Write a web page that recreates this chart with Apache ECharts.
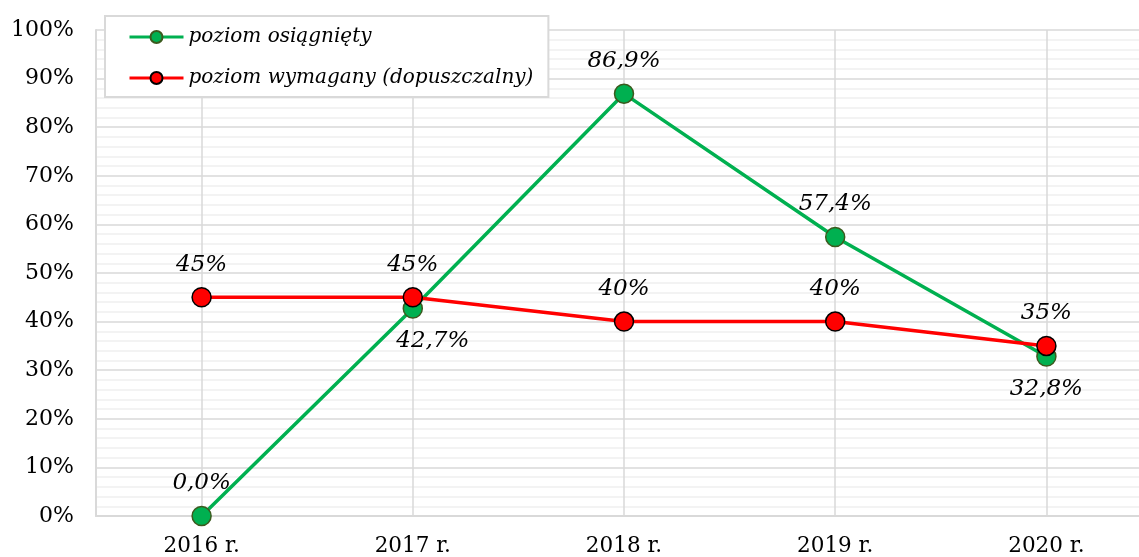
<!DOCTYPE html>
<html>
<head>
<meta charset="utf-8">
<script src="https://cdn.jsdelivr.net/npm/echarts@6/dist/echarts.min.js"></script>
<style>
  html, body { margin: 0; padding: 0; background: #fff; overflow: hidden; }
  /* obszar wykresu wychodzi poza prawą krawędź okna */
  #chart { width: 1152px; height: 557px; }
</style>
</head>
<body>
<div id="chart"></div>
<script>
// dane
const years = ['2016 r.', '2017 r.', '2018 r.', '2019 r.', '2020 r.']
const achieved = [0.0, 42.7, 86.9, 57.4, 32.8]
const required = [45, 45, 40, 40, 35]
const yTicks = [0, 10, 20, 30, 40, 50, 60, 70, 80, 90, 100]

// etykiety zielonej serii pod punktem (2017, 2020)
const achievedBelow = [1, 4]

const serif = '"DejaVu Serif", "Liberation Serif", serif'

const chart = echarts.init(document.getElementById('chart'))

const option = {
  animation: false,
  grid: { left: 96, right: 0, top: 30, bottom: 41, containLabel: false },
  legend: {
    orient: 'vertical',
    left: 105,
    top: 16,
    padding: [11, 15, 9, 23],
    itemGap: 21,
    itemWidth: 54,
    itemHeight: 15,
    backgroundColor: '#fff',
    borderColor: '#d9d9d9',
    borderWidth: 2,
    lineStyle: { width: 3 },
    textStyle: { fontFamily: serif, fontStyle: 'italic', fontSize: 20, color: '#000' },
    data: ['poziom osiągnięty', 'poziom wymagany (dopuszczalny)']
  },
  xAxis: {
    type: 'category',
    data: years,
    axisTick: { show: false },
    axisLine: { lineStyle: { color: '#d9d9d9', width: 2 } },
    axisLabel: { fontFamily: serif, fontSize: 21.5, color: '#000', margin: 19 },
    splitLine: { show: true, alignWithLabel: true, lineStyle: { color: '#d9d9d9', width: 1.5 } }
  },
  yAxis: {
    type: 'value',
    min: 0,
    max: 100,
    interval: 10,
    axisLine: { show: true, lineStyle: { color: '#d9d9d9', width: 2 } },
    axisTick: { show: false },
    axisLabel: {
      fontFamily: serif, fontSize: 22, color: '#000', margin: 22,
      formatter: function (v) { return yTicks.indexOf(v) >= 0 ? v + '%' : '' }
    },
    splitLine: { lineStyle: { color: '#d9d9d9', width: 1.5 } },
    minorTick: { show: false, splitNumber: 5 },
    minorSplitLine: { show: true, lineStyle: { color: '#efefef', width: 1.5 } }
  },
  series: [
    {
      name: 'poziom osiągnięty',
      type: 'line',
      z: 2,
      data: achieved.map(function (v, i) {
        const below = achievedBelow.indexOf(i) >= 0
        return {
          value: v,
          label: { position: below ? 'bottom' : 'top', offset: i === 1 ? [20, 0] : [0, 0] }
        }
      }),
      symbol: 'circle',
      symbolSize: 19,
      lineStyle: { color: '#00b050', width: 3.5 },
      itemStyle: { color: '#00b050', borderColor: '#3b5a1e', borderWidth: 1.5 },
      label: {
        show: true,
        distance: 11,
        fontFamily: serif,
        fontStyle: 'italic',
        fontSize: 23,
        color: '#000',
        formatter: function (p) { return p.value.toFixed(1).replace('.', ',') + '%' }
      }
    },
    {
      name: 'poziom wymagany (dopuszczalny)',
      type: 'line',
      z: 3,
      data: required,
      symbol: 'circle',
      symbolSize: 19,
      lineStyle: { color: '#ff0000', width: 3.5 },
      itemStyle: { color: '#ff0000', borderColor: '#000', borderWidth: 1.5 },
      label: {
        show: true,
        position: 'top',
        distance: 11,
        fontFamily: serif,
        fontStyle: 'italic',
        fontSize: 23,
        color: '#000',
        formatter: function (p) { return p.value + '%' }
      }
    }
  ]
}

chart.setOption(option)
</script>
</body>
</html>
